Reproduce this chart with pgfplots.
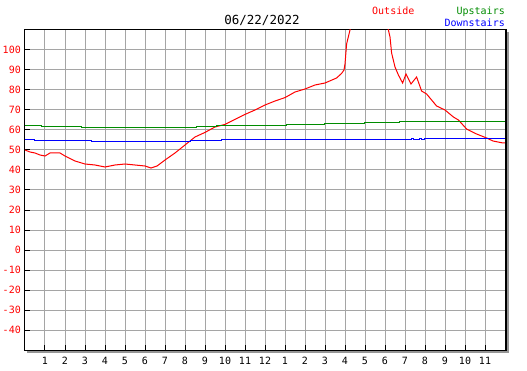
\documentclass[border=0pt]{standalone}
\usepackage{pgfplots}
\pgfplotsset{compat=1.18}
\usepackage{fontspec}
\setmainfont{DejaVu Sans Mono}
\definecolor{wgreen}{RGB}{0,140,0}
\definecolor{wgrid}{RGB}{165,165,165}
\definecolor{wshadow}{RGB}{150,150,150}
\begin{document}
\begin{tikzpicture}[x=1pt,y=1pt]
\useasboundingbox (0,0) rectangle (527,370);
\begin{axis}[at={(25pt,20pt)}, anchor=south west, scale only axis,
  width=480pt, height=320pt,
  xmin=0, xmax=24, ymin=-50, ymax=110,
  xtick={1,2,3,4,5,6,7,8,9,10,11,12,13,14,15,16,17,18,19,20,21,22,23},
  xticklabels={1,2,3,4,5,6,7,8,9,10,11,12,1,2,3,4,5,6,7,8,9,10,11},
  ytick={-40,-30,-20,-10,0,10,20,30,40,50,60,70,80,90,100},
  grid=major, grid style={wgrid, line width=1pt},
  major tick length=5pt, tick align=inside,
  xtick pos=left, ytick pos=left,
  tick style={black, line width=1pt},
  axis line style={black, line width=1pt},
  /pgf/number format/assume math mode=true,
  yticklabel style={red, inner sep=0pt, xshift=-4pt, font=\fontsize{10}{10}\selectfont},
  xticklabel style={black, inner sep=0pt, yshift=-7pt, font=\fontsize{10}{10}\selectfont},
]
\addplot[red, line width=1pt] coordinates {
(0,50) (0.25,49) (0.5,48.5) (0.75,47.5) (1,47) (1.25,48.5) (1.75,48.5) (2,47)
(2.5,44.5) (3,43) (3.5,42.5) (4,41.5) (4.5,42.5) (5,43) (5.5,42.5) (6,42)
(6.3,41) (6.6,42) (7,45) (7.5,48.5) (8,52.5) (8.5,56.5) (9,58.8) (9.5,61.5)
(10,62.8) (10.5,65.3) (11,67.8) (11.5,70) (12,72.5) (12.5,74.5) (13,76.2)
(13.5,79) (14,80.5) (14.5,82.5) (15,83.5) (15.58,86) (15.83,88.3) (15.95,90)
(16,93) (16.08,103) (16.25,110) (16.5,125) (17.8,125) (18.17,110) (18.25,106.5)
(18.33,98.5) (18.5,91.5) (18.67,87.5) (18.88,83.5) (19.05,88) (19.3,83)
(19.58,86.5) (19.83,79.5) (20.08,78) (20.58,72) (21,70) (21.42,66.5)
(21.67,65) (22.08,60.5) (22.58,58) (23.08,56) (23.4,54.5) (23.9,53.5) (24,53.5)
};
\addplot[wgreen, line width=1pt, const plot mark left] coordinates {
(0,62.3) (0.83,61.8) (2.8,61.3) (4.87,61) (7.33,61.3) (8.58,61.8) (9.58,62.3)
(13.08,62.8) (14.95,63.3) (16.95,63.8) (18.7,64.3) (24,64.3)
};
\addplot[blue, line width=1pt, const plot mark left] coordinates {
(0,55.3) (0.47,54.8) (3.3,54.3) (8.25,54.8) (9.8,55.3) (19.33,55.8) (19.42,55.3)
(19.72,55.8) (19.83,55.3) (19.95,55.8) (24,55.8)
};
\end{axis}
% frame shadow
\fill[wshadow] (507,17) rectangle (509,338);
\fill[wshadow] (27,17) rectangle (509,19);
\fill[black] (504.5,19) rectangle (507,340.5);
\fill[black] (24.5,19) rectangle (507,20.5);
% title and legend
\node[inner sep=0pt, anchor=base] at (262,345) {\fontsize{12.5}{12.5}\selectfont 06/22/2022};
\node[red, inner sep=0pt, anchor=base west] at (372,355) {\fontsize{10}{10}\selectfont Outside};
\node[wgreen, inner sep=0pt, anchor=base east] at (505,355) {\fontsize{10}{10}\selectfont Upstairs};
\node[blue, inner sep=0pt, anchor=base east] at (505,343.3) {\fontsize{10}{10}\selectfont Downstairs};
\end{tikzpicture}
\end{document}
